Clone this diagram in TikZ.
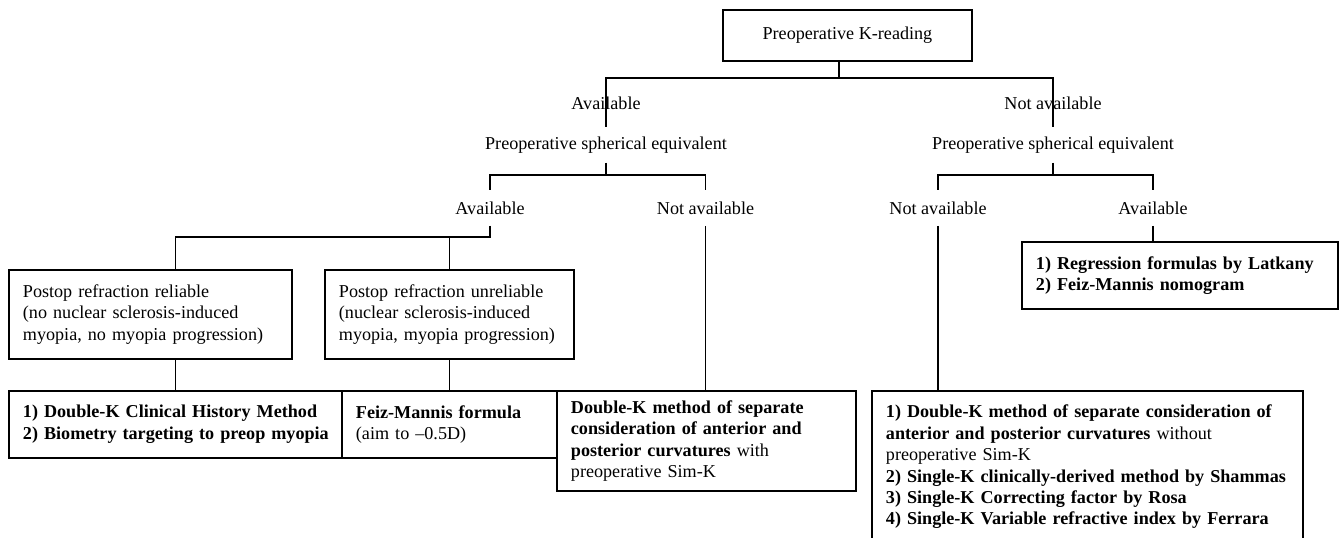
\documentclass[tikz,border=0pt]{standalone}
\usepackage{fontspec}
\setmainfont{Liberation Serif}
\begin{document}
\begin{tikzpicture}[x=0.75pt,y=-0.75pt,line width=1.4pt,
    font=\fontsize{13.6}{16.1}\selectfont,
    lbl/.style={inner sep=0pt,minimum height=25.5pt},
    box/.style 2 args={draw,anchor=north west,align=left,inner xsep=10.5pt,
        inner ysep=0pt,text width=#1,minimum height=#2}
    ]
\useasboundingbox (0,0) rectangle (1339,538);
\node[draw,anchor=north west,minimum width=186.75pt,minimum height=38.25pt] (kread) at (722,9) {Preoperative K-reading};
% answers and questions
\node[lbl] (avK) at (606,103) {Available};
\node[lbl] (naK) at (1053,103) {Not available};
\node[lbl] (seqL) at (606,145) {Preoperative spherical equivalent};
\node[lbl] (seqR) at (1053,145) {Preoperative spherical equivalent};
\node[lbl] (avL) at (490,208) {Available};
\node[lbl] (naL) at (705.5,208) {Not available};
\node[lbl] (naR) at (938,208) {Not available};
\node[lbl] (avR) at (1153,208) {Available};
% boxes
\node[box={191.25pt}{66.75pt}] (rel) at (8,269) {Postop refraction reliable\\(no nuclear sclerosis-induced\\\mbox{myopia, no myopia progression)}};
\node[box={165.75pt}{66.75pt}] (unrel) at (324,269) {Postop refraction unreliable\\(nuclear sclerosis-induced\\myopia, myopia progression)};
\node[box={228.75pt}{50.25pt}] (dkch) at (8,390) {\bfseries \mbox{1) Double-K Clinical History Method}\\\mbox{2) Biometry targeting to preop myopia}};
\node[box={140.25pt}{50.25pt}] (fmf) at (341,390) {\textbf{Feiz-Mannis formula}\\(aim to –0.5D)};
\node[box={203.25pt}{75pt}] (dksep) at (556,390) {\bfseries Double-K method of separate\\consideration of anterior and\\posterior curvatures \mdseries with\\preoperative Sim-K};
\node[box={302.25pt}{114pt}] (multi) at (871,390) {\bfseries \mbox{1) Double-K method of separate consideration of}\\anterior and posterior curvatures \mdseries without\\preoperative Sim-K\\\bfseries \mbox{2) Single-K clinically-derived method by Shammas}\\3) Single-K Correcting factor by Rosa\\\mbox{4) Single-K Variable refractive index by Ferrara}};
\node[box={216pt}{50.25pt}] (regr) at (1021,241) {\bfseries 1) Regression formulas by Latkany\\2) Feiz-Mannis nomogram};
% connectors
\draw ([xshift=-6.5pt]kread.south) -- ++(0,16) -| (avK |- seqL.north);
\draw ([xshift=-6.5pt]kread.south) -- ++(0,16) -| (seqR.north);
\draw (seqL.south) -- ++(0,12) -| (avL.north);
\draw (seqL.south) -- ++(0,12) -| (naL.north);
\draw (seqR.south) -- ++(0,12) -| (naR.north);
\draw (seqR.south) -- ++(0,12) -| (avR.north);
\draw (avL.south) -- ++(0,11) -| (dkch.north |- rel.north);
\draw (avL.south) -- ++(0,11) -| (fmf.north |- unrel.north);
\draw (rel.south -| dkch.north) -- (dkch.north);
\draw (unrel.south -| fmf.north) -- (fmf.north);
\draw (naL.south) -- (naL.south |- dksep.north);
\draw (naR.south) -- (naR.south |- multi.north);
\draw (avR.south) -- (avR.south |- regr.north);
\end{tikzpicture}
\end{document}
